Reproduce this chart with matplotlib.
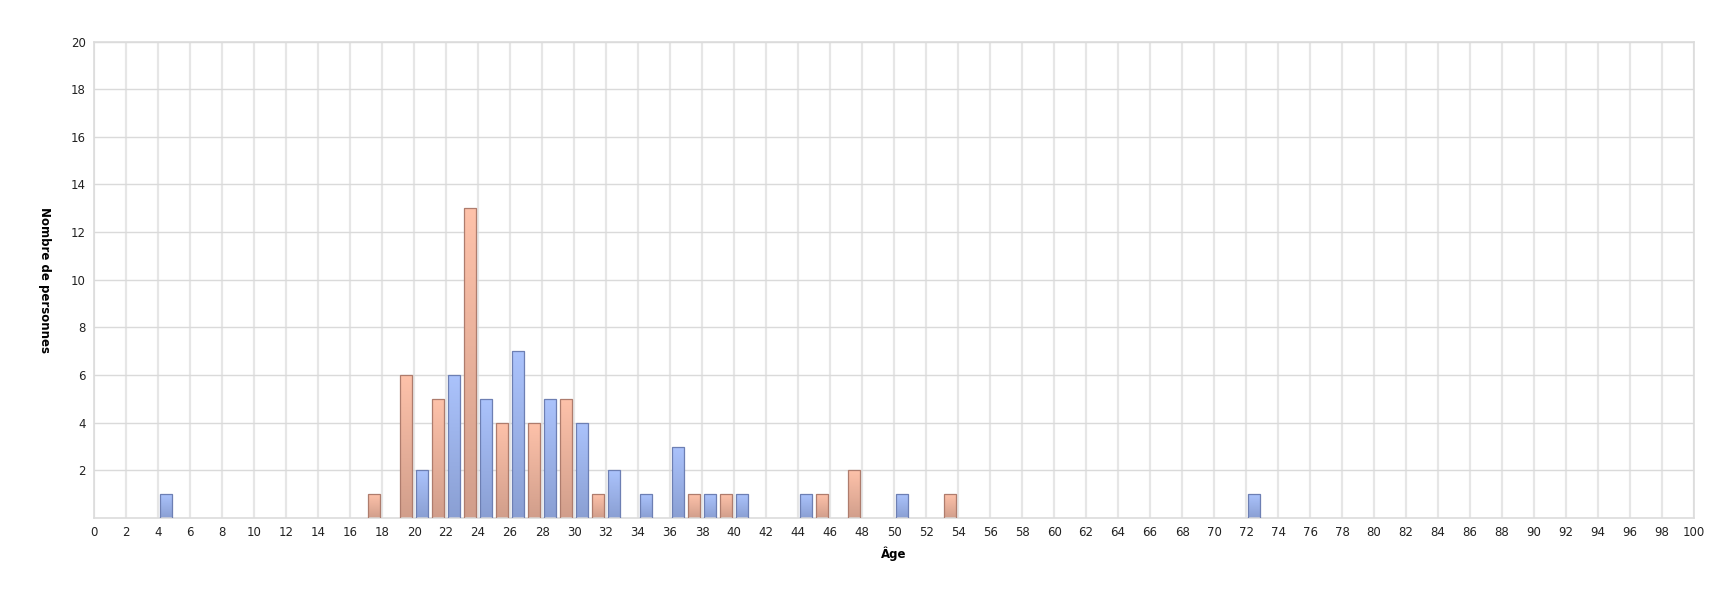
import matplotlib
matplotlib.use("Agg")
import matplotlib.pyplot as plt
import numpy as np
from matplotlib.colors import LinearSegmentedColormap

# ages (years) and number of people per age
ages = [4, 17, 19, 20, 21, 22, 23, 24, 25, 26, 27, 28, 29, 30, 31, 32,
        34, 36, 37, 38, 39, 40, 44, 45, 47, 50, 53, 72]
counts = [1, 1, 6, 2, 5, 6, 13, 5, 4, 7, 4, 5, 5, 4, 1, 2,
          1, 3, 1, 1, 1, 1, 1, 1, 2, 1, 1, 1]

x_ticks = list(range(0, 101, 2))
y_ticks = list(range(2, 21, 2))

blue_cmap = LinearSegmentedColormap.from_list("blue", ["#8a9fd3", "#abc3fc"])
orange_cmap = LinearSegmentedColormap.from_list("orange", ["#d19e8b", "#fec2aa"])
blue_edge = "#6d7fb3"
orange_edge = "#ae7c6d"

fig = plt.figure(figsize=(17.26, 5.94), dpi=100)
ax = fig.add_axes([0.0545, 0.128, 0.927, 0.802])

ax.set_xlim(0, 100)
ax.set_ylim(0, 20)

ax.set_xticks(x_ticks)
ax.set_yticks(y_ticks)
ax.tick_params(length=0, labelsize=8.5, colors="#222222", pad=6)
ax.grid(True, axis="x", color="#e6e6e6", linewidth=1.6)
ax.grid(True, axis="y", color="#dadada", linewidth=1.0)
ax.set_axisbelow(True)
for sp in ax.spines.values():
    sp.set_color("#dcdcdc")
    sp.set_linewidth(1.2)

gradient = np.linspace(0, 1, 256).reshape(-1, 1)
width = 0.78
bars = ax.bar([a + 0.5 for a in ages], counts, width=width, facecolor="none",
              linewidth=0.9, zorder=3)
for bar, age, n in zip(bars, ages, counts):
    even = age % 2 == 0
    bar.set_edgecolor(blue_edge if even else orange_edge)
    x0 = bar.get_x()
    im = ax.imshow(gradient, extent=[x0, x0 + width, 0, n], origin="lower",
                   aspect="auto", cmap=blue_cmap if even else orange_cmap,
                   zorder=2, interpolation="bilinear")
    im.set_clip_path(bar)

ax.set_xlim(0, 100)
ax.set_ylim(0, 20)

ax.set_xlabel("Âge", fontsize=8.5, fontweight="bold", labelpad=5)
ax.set_ylabel("Nombre de personnes", fontsize=8.5, fontweight="bold",
              rotation=-90)
ax.yaxis.set_label_coords(-0.035, 0.5)

fig.savefig("out.png", dpi=100)
